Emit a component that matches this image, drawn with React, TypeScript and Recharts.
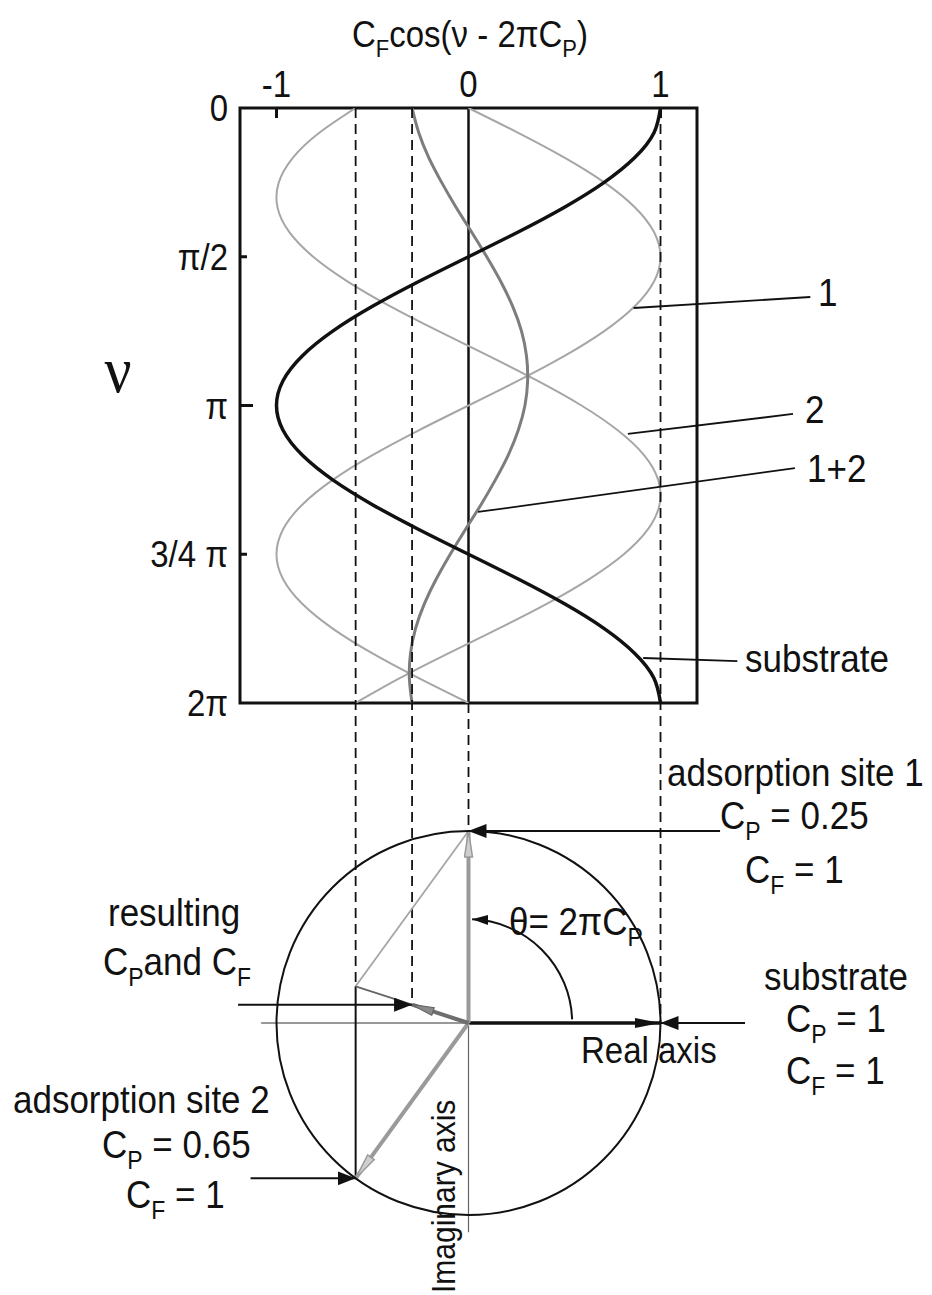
import React from "react";
import {
  ComposedChart,
  Line,
  Scatter,
  XAxis,
  YAxis,
  ReferenceArea,
  ReferenceLine,
  ReferenceDot,
} from "recharts";

// phase ν, sampled in twelfths of π from 0 to 2π
const NU_TWELFTHS = [0, 1, 2, 3, 4, 5, 6, 7, 8, 9, 10, 11, 12, 13, 14, 15, 16, 17, 18, 19, 20, 21, 22, 23, 24];

// C_F cos(ν - 2πC_P) for each contribution, one value per ν sample
const SUBSTRATE = [1.0, 0.966, 0.866, 0.707, 0.5, 0.259, 0.0, -0.259, -0.5, -0.707, -0.866, -0.966, -1.0, -0.966, -0.866, -0.707, -0.5, -0.259, 0.0, 0.259, 0.5, 0.707, 0.866, 0.966, 1.0];
const SITE_1 = [0.0, 0.259, 0.5, 0.707, 0.866, 0.966, 1.0, 0.966, 0.866, 0.707, 0.5, 0.259, 0.0, -0.259, -0.5, -0.707, -0.866, -0.966, -1.0, -0.966, -0.866, -0.707, -0.5, -0.259, 0.0];
const SITE_2 = [-0.588, -0.777, -0.914, -0.988, -0.995, -0.934, -0.809, -0.629, -0.407, -0.156, 0.105, 0.358, 0.588, 0.777, 0.914, 0.988, 0.995, 0.934, 0.809, 0.629, 0.407, 0.156, -0.105, -0.358, -0.588];
const SITES_1_2 = [-0.294, -0.259, -0.207, -0.14, -0.065, 0.016, 0.095, 0.168, 0.23, 0.276, 0.302, 0.308, 0.294, 0.259, 0.207, 0.14, 0.065, -0.016, -0.095, -0.168, -0.23, -0.276, -0.302, -0.308, -0.294];

const X_TICKS = [-1, 0, 1];
const X_TICK_LABELS = ["-1", "0", "1"];
const NU_TICKS_PI = [0, 0.5, 1, 1.5, 2];
const NU_TICK_LABELS = ["0", "π/2", "π", "3/4 π", "2π"];

// adsorption sites and substrate as (C_P, C_F)
const SITE_CP = [0.25, 0.65];
const SITE_CF = [1, 1];
const SUBSTRATE_CP = 1;
const SUBSTRATE_CF = 1;

// ---- layout -------------------------------------------------------------
const W = 932;
const H = 1295;
const PLOT_L = 240;
const PLOT_R = 697;
const PLOT_T = 108;
const PLOT_B = 703;
const X_MIN = -1.19;
const X_MAX = 1.19;
const X_AXIS_H = 60;
const Y_AXIS_W = 100;
const UNIT = (PLOT_R - PLOT_L) / (X_MAX - X_MIN); // px per unit of C_F
const ORIGIN_Y = 1023; // phasor origin, px
const DIAGRAM_B = 1280;
const Y_MAX = (ORIGIN_Y - PLOT_T) / UNIT;
const Y_MIN = -(DIAGRAM_B - ORIGIN_Y) / UNIT;
const Y_PLOT_BOTTOM = (ORIGIN_Y - PLOT_B) / UNIT;
const THETA_ARC_R = 0.54;

const FONT = "'Liberation Sans', Arial, Helvetica, sans-serif";
const SY = 1.1; // lettering is a little taller than regular Arial
const INK = "#111";
const LIGHT = "#a6a6a6";
const MID = "#7d7d7d";

const waveRows = NU_TWELFTHS.map((k, i) => ({
  nu: (k * Math.PI) / 12,
  substrate: SUBSTRATE[i],
  site1: SITE_1[i],
  site2: SITE_2[i],
  sites12: SITES_1_2[i],
}));

const phasor = (cp: number, cf: number) => ({
  x: cf * Math.cos(2 * Math.PI * cp),
  y: cf * Math.sin(2 * Math.PI * cp),
});
const site1 = phasor(SITE_CP[0], SITE_CF[0]);
const site2 = phasor(SITE_CP[1], SITE_CF[1]);
const substrate = phasor(SUBSTRATE_CP, SUBSTRATE_CF);
const sum = { x: site1.x + site2.x, y: site1.y + site2.y };
const result = { x: sum.x / 2, y: sum.y / 2 };
const origin = { x: 0, y: 0 };
const tipRows = [site1, site2, substrate, result];

function T({
  x,
  y,
  size = 35,
  anchor = "start",
  rotate,
  family = FONT,
  children,
}: {
  x: number;
  y: number;
  size?: number;
  anchor?: "start" | "middle" | "end";
  rotate?: number;
  family?: string;
  children: React.ReactNode;
}) {
  const tf = `translate(${x} ${y})${rotate ? ` rotate(${rotate})` : ""} scale(1 ${SY})`;
  return (
    <text x={0} y={0} transform={tf} textAnchor={anchor} fontSize={size} fontFamily={family} fill={INK}>
      {children}
    </text>
  );
}

function TopTick(props: any) {
  const { x, y, payload } = props;
  const i = X_TICKS.indexOf(payload.value);
  const edge = y + 11;
  return (
    <g>
      <T x={x} y={y} size={33} anchor="middle">
        {X_TICK_LABELS[i]}
      </T>
      {payload.value !== 0 && <line x1={x} x2={x} y1={edge} y2={edge + 10} stroke={INK} strokeWidth={3} />}
    </g>
  );
}

function LeftTick(props: any) {
  const { x, y, payload } = props;
  const i = NU_TICKS_PI.findIndex((v) => Math.abs(v * Math.PI - payload.value) < 1e-6);
  const edge = x + 12;
  const len = NU_TICKS_PI[i] === 1 ? 13 : 7;
  const inner = i > 0 && i < NU_TICKS_PI.length - 1;
  return (
    <g>
      <T x={x} y={y + 13} size={33} anchor="end">
        {NU_TICK_LABELS[i]}
      </T>
      {inner && <line x1={edge} x2={edge + len} y1={y} y2={y} stroke={INK} strokeWidth={3} />}
    </g>
  );
}

const arrow = (marker?: string) => (p: any) => (
  <line
    x1={p.x1}
    y1={p.y1}
    x2={p.x2}
    y2={p.y2}
    stroke={p.stroke}
    strokeWidth={p.strokeWidth}
    strokeDasharray={p.strokeDasharray}
    markerEnd={marker ? `url(#${marker})` : undefined}
  />
);

function ThetaArc(p: any) {
  const { cx, cy, r } = p;
  const a0 = (2 * Math.PI) / 180;
  const a1 = (88 * Math.PI) / 180;
  const d = `M ${cx + r * Math.cos(a0)} ${cy - r * Math.sin(a0)} A ${r} ${r} 0 0 0 ${cx + r * Math.cos(a1)} ${cy - r * Math.sin(a1)}`;
  return <path d={d} fill="none" stroke={INK} strokeWidth={2} markerEnd="url(#headArc)" />;
}

function Markers() {
  return (
    <svg width={0} height={0} style={{ position: "absolute" }}>
      <defs>
        <marker id="headBlack" viewBox="0 0 18 14" markerWidth={18} markerHeight={14} refX={18} refY={7} orient="auto" markerUnits="userSpaceOnUse">
          <path d="M0,0 L18,7 L0,14 z" fill={INK} />
        </marker>
        <marker id="headLong" viewBox="0 0 26 10" markerWidth={26} markerHeight={10} refX={26} refY={5} orient="auto" markerUnits="userSpaceOnUse">
          <path d="M0,0 L26,5 L0,10 z" fill={INK} />
        </marker>
        <marker id="headGray" viewBox="0 0 28 10" markerWidth={28} markerHeight={10} refX={27} refY={5} orient="auto" markerUnits="userSpaceOnUse">
          <path d="M1,1 L27,5 L1,9 z" fill="#cfcfcf" stroke="#9a9a9a" strokeWidth={1.5} />
        </marker>
        <marker id="headDark" viewBox="0 0 24 10" markerWidth={24} markerHeight={10} refX={23} refY={5} orient="auto" markerUnits="userSpaceOnUse">
          <path d="M1,1 L23,5 L1,9 z" fill="#8a8a8a" stroke="#666" strokeWidth={1.2} />
        </marker>
        <marker id="headArc" viewBox="0 0 16 10" markerWidth={16} markerHeight={10} refX={16} refY={5} orient="auto" markerUnits="userSpaceOnUse">
          <path d="M0,0 L16,5 L0,10 z" fill={INK} />
        </marker>
      </defs>
    </svg>
  );
}

function Coef({ x, y, name, rest }: { x: number; y: number; name: string; rest: string }) {
  return (
    <T x={x} y={y}>
      C
      <tspan dy={10} fontSize={23}>{name}</tspan>
      <tspan dy={-10}>{rest}</tspan>
    </T>
  );
}

function Labels() {
  return (
    <svg width={W} height={H} style={{ position: "absolute", left: 0, top: 0 }}>
      <T x={470} y={47} size={33} anchor="middle">
        C<tspan dy={9} fontSize={22}>F</tspan>
        <tspan dy={-9}>cos(ν - 2πC</tspan>
        <tspan dy={9} fontSize={22}>P</tspan>
        <tspan dy={-9}>)</tspan>
      </T>
      <T x={118} y={392} size={60} anchor="middle" family="'Liberation Serif', 'Times New Roman', serif">
        ν
      </T>

      <T x={818} y={306}>1</T>
      <T x={805} y={423}>2</T>
      <T x={807} y={482}>1+2</T>
      <T x={745} y={672}>substrate</T>

      <T x={667} y={786}>adsorption site 1</T>
      <Coef x={720} y={829} name="P" rest=" = 0.25" />
      <Coef x={745} y={883} name="F" rest=" = 1" />

      <T x={764} y={990}>substrate</T>
      <Coef x={786} y={1032} name="P" rest=" = 1" />
      <Coef x={786} y={1084} name="F" rest=" = 1" />

      <T x={581} y={1063} size={33}>Real axis</T>
      <T x={509} y={935}>
        θ= 2πC<tspan dy={10} fontSize={23}>P</tspan>
      </T>

      <T x={108} y={926}>resulting</T>
      <T x={103} y={975}>
        C<tspan dy={10} fontSize={23}>P</tspan>
        <tspan dy={-10}>and C</tspan>
        <tspan dy={10} fontSize={23}>F</tspan>
      </T>

      <T x={13} y={1113}>adsorption site 2</T>
      <Coef x={102} y={1158} name="P" rest=" = 0.65" />
      <Coef x={126} y={1208} name="F" rest=" = 1" />

      <T x={455} y={1293} size={30} rotate={-90}>
        Imaginary axis
      </T>
    </svg>
  );
}

export default function App() {
  const layer = { position: "absolute", left: 0, top: 0 } as const;
  return (
    <div style={{ position: "absolute", left: 0, top: 0, width: W, height: H, background: "#fff" }}>
      <Markers />

      {/* ν-waveforms of the two sites, their sum and the substrate */}
      <div style={layer}>
        <ComposedChart
          layout="vertical"
          width={W}
          height={H}
          data={waveRows}
          margin={{ top: PLOT_T - X_AXIS_H, right: W - PLOT_R, bottom: H - PLOT_B, left: PLOT_L - Y_AXIS_W }}
        >
          <XAxis
            type="number"
            orientation="top"
            domain={[X_MIN, X_MAX]}
            ticks={X_TICKS}
            interval={0}
            height={X_AXIS_H}
            axisLine={false}
            tickLine={false}
            tickSize={0}
            tickMargin={11}
            tick={TopTick}
            allowDataOverflow
          />
          <YAxis
            type="number"
            dataKey="nu"
            domain={[0, 2 * Math.PI]}
            ticks={NU_TICKS_PI.map((v) => v * Math.PI)}
            interval={0}
            width={Y_AXIS_W}
            axisLine={false}
            tickLine={false}
            tickSize={0}
            tickMargin={12}
            tick={LeftTick}
            allowDataOverflow
          />
          <ReferenceLine x={0} stroke={INK} strokeWidth={2.5} ifOverflow="visible" />
          <Line dataKey="site1" type="natural" stroke={LIGHT} strokeWidth={2} dot={false} isAnimationActive={false} />
          <Line dataKey="site2" type="natural" stroke={LIGHT} strokeWidth={2} dot={false} isAnimationActive={false} />
          <Line dataKey="sites12" type="natural" stroke={MID} strokeWidth={3} dot={false} isAnimationActive={false} />
          <Line dataKey="substrate" type="natural" stroke={INK} strokeWidth={3.5} dot={false} isAnimationActive={false} />

          {/* leaders to the curve labels */}
          <ReferenceLine segment={[{ x: 0.86, y: 2.112 }, { x: 1.78, y: 1.996 }]} stroke={INK} strokeWidth={1.8} ifOverflow="visible" />
          <ReferenceLine segment={[{ x: 0.83, y: 3.442 }, { x: 1.69, y: 3.231 }]} stroke={INK} strokeWidth={1.8} ifOverflow="visible" />
          <ReferenceLine segment={[{ x: 0.05, y: 4.266 }, { x: 1.7, y: 3.802 }]} stroke={INK} strokeWidth={1.8} ifOverflow="visible" />
          <ReferenceLine segment={[{ x: 0.91, y: 5.808 }, { x: 1.4, y: 5.84 }]} stroke={INK} strokeWidth={1.8} ifOverflow="visible" />

          <ReferenceArea x1={X_MIN} x2={X_MAX} y1={0} y2={2 * Math.PI} fill="none" fillOpacity={0} stroke={INK} strokeWidth={3} ifOverflow="visible" />
        </ComposedChart>
      </div>

      {/* phasor diagram on the same horizontal scale */}
      <div style={layer}>
        <ComposedChart
          width={W}
          height={H}
          data={tipRows}
          margin={{ top: PLOT_T, right: W - PLOT_R, bottom: H - DIAGRAM_B, left: PLOT_L }}
        >
          <XAxis type="number" dataKey="x" hide domain={[X_MIN, X_MAX]} allowDataOverflow />
          <YAxis type="number" dataKey="y" hide domain={[Y_MIN, Y_MAX]} allowDataOverflow />

          {/* projections of the phasor tips */}
          <ReferenceLine segment={[{ x: site2.x, y: Y_MAX }, { x: site2.x, y: sum.y }]} stroke={INK} strokeWidth={1.8} strokeDasharray="10 6" ifOverflow="visible" />
          <ReferenceLine segment={[{ x: result.x, y: Y_MAX }, { x: result.x, y: result.y }]} stroke={INK} strokeWidth={1.8} strokeDasharray="10 6" ifOverflow="visible" />
          <ReferenceLine segment={[{ x: site1.x, y: Y_PLOT_BOTTOM }, { x: site1.x, y: site1.y }]} stroke={INK} strokeWidth={1.8} strokeDasharray="10 6" ifOverflow="visible" />
          <ReferenceLine segment={[{ x: substrate.x, y: Y_MAX }, { x: substrate.x, y: substrate.y }]} stroke={INK} strokeWidth={1.8} strokeDasharray="10 6" ifOverflow="visible" />

          <ReferenceDot x={0} y={0} r={UNIT * SITE_CF[0]} fill="none" stroke={INK} strokeWidth={2} ifOverflow="visible" />

          {/* real and imaginary axes */}
          <ReferenceLine segment={[{ x: -1.08, y: 0 }, origin]} stroke="#333" strokeWidth={1.2} ifOverflow="visible" />
          <ReferenceLine segment={[origin, { x: 0, y: -1.09 }]} stroke="#666" strokeWidth={1.2} ifOverflow="visible" />

          {/* parallelogram construction */}
          <ReferenceLine segment={[site1, sum]} stroke={LIGHT} strokeWidth={1.8} ifOverflow="visible" />
          <ReferenceLine segment={[sum, site2]} stroke={INK} strokeWidth={2} ifOverflow="visible" />
          <ReferenceLine segment={[result, sum]} stroke="#666" strokeWidth={1.8} ifOverflow="visible" />

          {/* phasors */}
          <ReferenceLine segment={[origin, substrate]} stroke={INK} strokeWidth={3.5} ifOverflow="visible" shape={arrow("headLong")} />
          <ReferenceLine segment={[origin, site1]} stroke="#9a9a9a" strokeWidth={4} ifOverflow="visible" shape={arrow("headGray")} />
          <ReferenceLine segment={[origin, site2]} stroke="#9a9a9a" strokeWidth={4} ifOverflow="visible" shape={arrow("headGray")} />
          <ReferenceLine segment={[origin, result]} stroke="#6e6e6e" strokeWidth={4} ifOverflow="visible" shape={arrow("headDark")} />

          <ReferenceDot x={0} y={0} r={UNIT * THETA_ARC_R} ifOverflow="visible" shape={ThetaArc} />

          {/* label pointers */}
          <ReferenceLine segment={[{ x: 1.31, y: site1.y }, site1]} stroke={INK} strokeWidth={2} ifOverflow="visible" shape={arrow("headBlack")} />
          <ReferenceLine segment={[{ x: 1.44, y: substrate.y }, substrate]} stroke={INK} strokeWidth={2} ifOverflow="visible" shape={arrow("headBlack")} />
          <ReferenceLine segment={[{ x: -1.2, y: result.y }, result]} stroke={INK} strokeWidth={2} ifOverflow="visible" shape={arrow("headBlack")} />
          <ReferenceLine segment={[{ x: -1.135, y: site2.y }, site2]} stroke={INK} strokeWidth={2} ifOverflow="visible" shape={arrow("headBlack")} />

          <Scatter data={tipRows} dataKey="y" shape={() => <g />} isAnimationActive={false} />
        </ComposedChart>
      </div>

      <Labels />
    </div>
  );
}
